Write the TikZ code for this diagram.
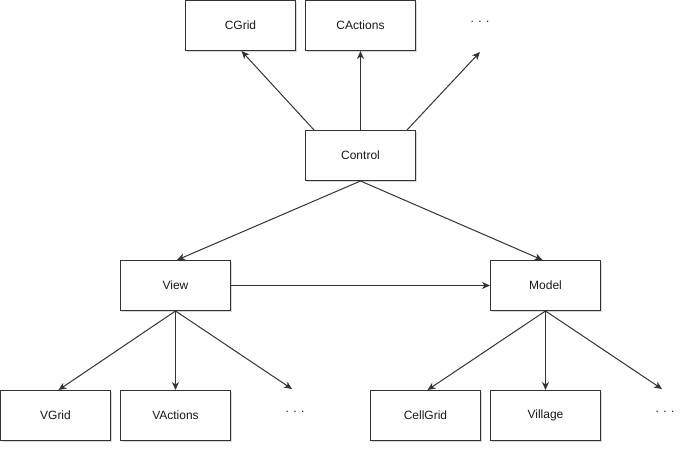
\documentclass[tikz,border=0pt]{standalone}
\usepackage{fontspec}
\setmainfont{Liberation Sans}
\usetikzlibrary{arrows.meta,shadows}
\begin{document}
\begin{tikzpicture}[x=1pt,y=-1pt,
  box/.style={draw=black!80, line width=1pt, fill=white, minimum width=110pt, minimum height=50pt, inner sep=0pt,
    font=\fontsize{12}{14}\selectfont, text=black!90,
    drop shadow={shadow xshift=1.2pt, shadow yshift=-1.2pt, opacity=0.25, fill=black!60}},
  dots/.style={inner sep=0pt, font=\fontsize{12}{14}\selectfont, text=black!90},
  conn/.style={draw=black!80, line width=1pt, -{Stealth[length=8pt,width=7pt,inset=2.5pt]}}]
\useasboundingbox (0,0) rectangle (689,452);
\fill[white] (0,0) rectangle (689,452);
% top row
\node[box] (cgrid) at (240.5,25.5) {CGrid};
\node[box] (cact) at (360.5,25.5) {CActions};
\node[dots] (tdots) at (480,22) {. . .};
% control
\node[box] (ctrl) at (360.5,155.5) {Control};
% middle row
\node[box] (view) at (175.5,285.5) {View};
\node[box] (model) at (545.5,285.5) {Model};
% bottom row
\node[box] (vgrid) at (55.5,415.5) {VGrid};
\node[box] (vact) at (175.5,415.5) {VActions};
\node[dots] (vdots) at (295,412) {. . .};
\node[box] (cell) at (425.5,415.5) {CellGrid};
\node[box] (vill) at (545.5,415.5) {Village};
\node[dots] (mdots) at (665,412) {. . .};
% free ends
\coordinate (te) at (480,52);
\coordinate (ve) at (292,389);
\coordinate (me) at (662,389);
% connectors
\draw[conn] ([xshift=9pt]ctrl.north west) -- ([xshift=1pt]cgrid.south);
\draw[conn] (ctrl.north) -- (cact.south);
\draw[conn] ([xshift=-9pt]ctrl.north east) -- (te);
\draw[conn] (ctrl.south) -- ([xshift=1.5pt]view.north);
\draw[conn] (ctrl.south) -- ([xshift=-3pt]model.north);
\draw[conn] (view.east) -- (model.west);
\draw[conn] (view.south) -- ([xshift=3pt]vgrid.north);
\draw[conn] (view.south) -- (vact.north);
\draw[conn] (view.south) -- (ve);
\draw[conn] (model.south) -- ([xshift=2pt]cell.north);
\draw[conn] (model.south) -- (vill.north);
\draw[conn] (model.south) -- (me);
\end{tikzpicture}
\end{document}
